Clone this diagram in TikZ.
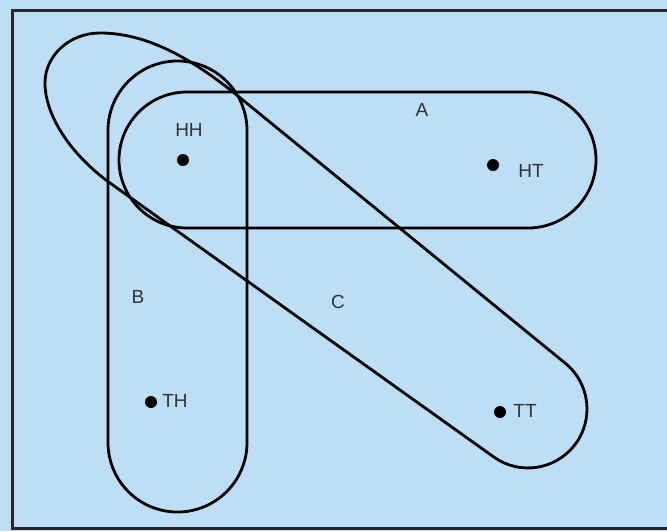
\documentclass[tikz,border=0pt]{standalone}
\usepackage{fontspec}
\setmainfont{Liberation Sans}
\usetikzlibrary{shapes.misc}
\definecolor{bgblue}{RGB}{190,222,246}
\definecolor{framec}{RGB}{40,36,52}
\definecolor{txt}{RGB}{50,50,55}
\tikzset{
  setline/.style={draw=black, line width=2.8pt},
  stadium/.style={setline, rounded rectangle, inner sep=0pt},
  pt/.style={circle, fill=black, inner sep=0pt, minimum size=12pt},
  lbl/.style={text=txt, inner sep=0pt, font=\fontsize{19}{19}\selectfont}
}
\begin{document}
\begin{tikzpicture}[x=1pt,y=1pt,yscale=-1]
\useasboundingbox (0,0) rectangle (667,531);
\fill[bgblue] (0,0) rectangle (667,531);
\begin{scope}
\clip (0,0) rectangle (667,531);
\draw[framec, line width=3pt] (12,10) rectangle (700,528);
\end{scope}
% set A (horizontal)
\node[stadium, minimum width=477pt, minimum height=136pt] (setA) at (357.5,160) {};
% set B (vertical)
\node[stadium, rotate=90, minimum width=451pt, minimum height=139pt] (setB) at (177.5,286.5) {};
% set C (diagonal)
\coordinate (ctop) at (100,33);
\coordinate (uj) at (233,92);
\coordinate (u2) at (564.5,362.6);
\coordinate (lj) at (110,183);
\coordinate (cleft) at (45,83);
\draw[setline] (ctop) .. controls (150,33) and (195,62) .. (uj)
  -- (u2) arc[start angle=-51.77, end angle=124.61, radius=59]
  -- (lj) .. controls (70,154) and (45,115) .. (cleft)
  .. controls (45,55.4) and (69.6,33) .. (ctop) -- cycle;
% points
\node[pt] (hh) at (183,160) {};
\node[pt] (ht) at (493,165) {};
\node[pt] (th) at (151,402) {};
\node[pt] (tt) at (500,412) {};
\node[lbl] (hhl) at (189,130) {HH};
\node[lbl] (htl) at (531,171) {HT};
\node[lbl] (thl) at (175,401) {TH};
\node[lbl] (ttl) at (525,411) {TT};
\node[lbl] (la) at (422,110) {A};
\node[lbl] (lb) at (138,297) {B};
\node[lbl] (lc) at (338,302) {C};
\end{tikzpicture}
\end{document}
